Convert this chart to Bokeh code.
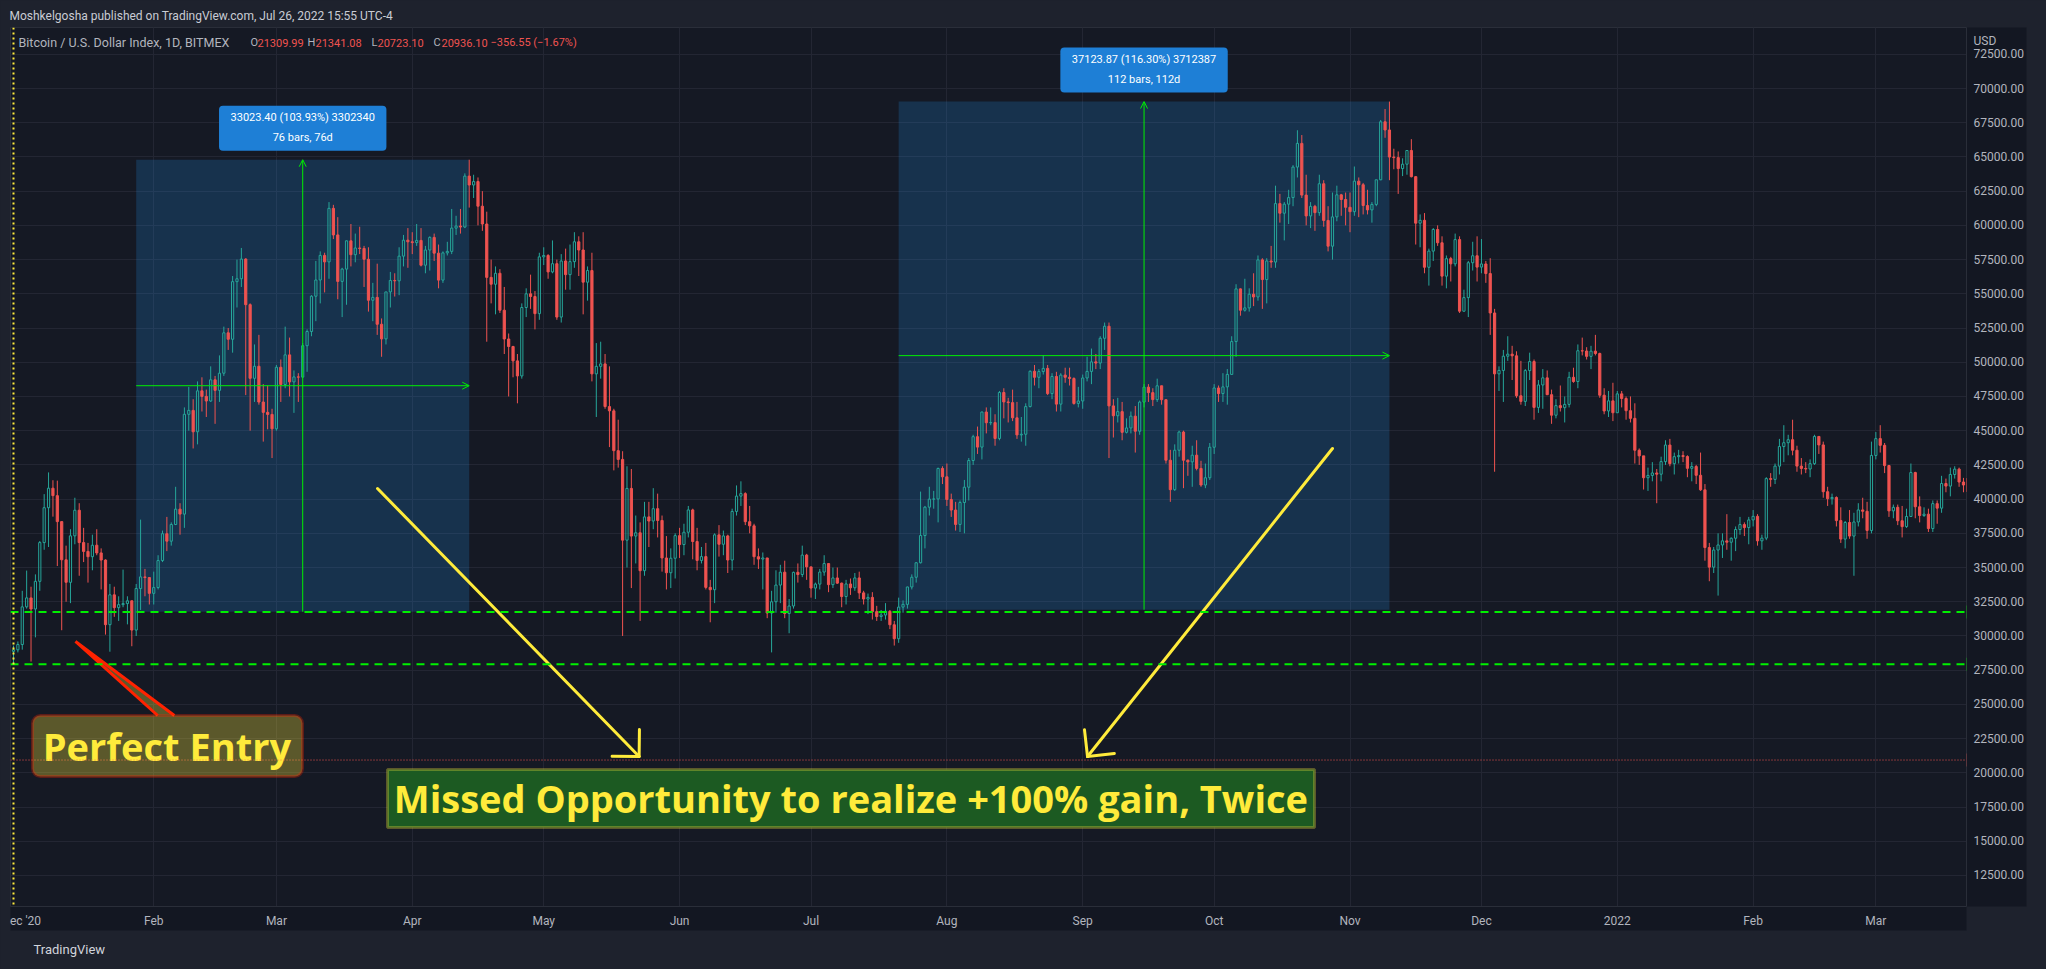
import math
import pandas as pd
from bokeh.plotting import figure
from bokeh.models import (Range1d, FixedTicker, NumeralTickFormatter, Label, BoxAnnotation,
                          Span, Arrow, OpenHead, GlobalInlineStyleSheet, Title)
from bokeh.core.properties import value
from bokeh.embed import file_html
from bokeh.resources import INLINE

# ------------------------------------------------------------------ data
start_date = "2020-12-31"
first_open = 28875.00

close = [
    28990,
    # Jan 2021
    29374, 32127, 32782, 31971, 33992, 36824, 39371, 40797, 40254, 38356, 35566, 33922, 37316, 39187, 36825, 36178,
    35792, 36630, 36069, 35548, 30826, 33006, 32068, 32289, 32366, 32570, 30432, 33466, 34316, 34269, 33115,
    # Feb
    33538, 35511, 37473, 36927, 38144, 39266, 38903, 46196, 46482, 44919, 47910, 47505, 47168, 48717, 47945, 49200,
    52149, 51679, 55888, 56100, 57540, 54207, 48825, 49705, 47093, 46339, 46188, 45137,
    # Mar
    49632, 48378, 50538, 48562, 48927, 48912, 51206, 52247, 54824, 56008, 57805, 57332, 61243, 59302, 55907, 56805,
    58871, 57858, 58347, 58313, 57523, 54529, 54738, 52775, 51705, 55138, 55974, 55948, 57751, 58918, 58800,
    # Apr
    58740, 58900, 57090, 58200, 59120, 57970, 56000, 57990, 58100, 59800, 59950, 59880, 63600, 62950, 63200, 61400,
    60100, 56200, 55700, 56500, 53800, 51700, 51150, 50100, 49000, 54000, 55000, 54800, 53550, 57700,
    # May
    57800, 56600, 57200, 53300, 57400, 56400, 57350, 58800, 58200, 55850, 56700, 49150, 49700, 49880, 46760, 46450,
    43540, 42900, 37000, 40780, 37300, 37540, 34770, 38700, 38400, 39300, 38440, 35700, 34620, 35680, 37330,
    # Jun
    36680, 37580, 39210, 36900, 35520, 35800, 33550, 33380, 37390, 36700, 37310, 35550, 39100, 40220, 40400, 38350,
    38050, 35790, 35620, 35700, 31680, 32500, 33720, 34660, 31640, 32190, 34650, 34490, 35910, 35050,
    # Jul
    33500, 33790, 34670, 35290, 33750, 34240, 33860, 32880, 33800, 33520, 34240, 33150, 32700, 32820, 31780, 31420,
    31530, 31800, 30820, 29800, 32110, 32310, 33580, 34290, 35350, 37340, 39410, 40000, 40010, 42240, 41630,
    # Aug
    39970, 39200, 38150, 39750, 40870, 42820, 44560, 43800, 46360, 45580, 45590, 44430, 47790, 47100, 47050, 45940,
    44690, 44740, 46760, 49340, 48900, 49320, 49550, 47710, 48960, 46940, 49060, 48900, 48810, 46990, 47170,
    # Sep
    48850, 49330, 50030, 49940, 51750, 52630, 46810, 46090, 46390, 44880, 45200, 46060, 44960, 47090, 48180, 47780,
    47270, 48280, 47260, 42840, 40690, 43570, 44900, 42840, 42720, 43210, 42240, 41030, 41560, 43790,
    # Oct
    48120, 47710, 48200, 49110, 51510, 55360, 53800, 53970, 54970, 54770, 57480, 56040, 57400, 57320, 61590, 60890,
    61550, 62030, 64260, 65990, 62210, 60690, 61390, 60930, 63040, 60360, 58480, 60620, 62230, 61890, 61320,
    # Nov
    61000, 63230, 62970, 61450, 61130, 61530, 63330, 67570, 66970, 64990, 64950, 64150, 64470, 65470, 63560, 60160,
    60370, 56940, 58120, 59700, 58730, 56290, 57570, 57190, 58960, 53730, 54720, 57270, 57780, 56950,
    # Dec
    57180, 56480, 53600, 49150, 49400, 50440, 50590, 50470, 47550, 47140, 49390, 50050, 46700, 48340, 48860, 47630,
    46130, 46830, 46680, 46920, 48900, 48590, 50840, 50820, 50430, 50810, 50640, 47590, 46440, 47180, 46310,
    # Jan 2022
    47690, 47350, 46460, 45900, 43570, 43160, 41560, 41730, 41910, 41820, 42740, 43950, 42590, 43100, 43180, 43110,
    42250, 42380, 41740, 40680, 36460, 35030, 36280, 36650, 36950, 36850, 37140, 37780, 38140, 37920, 38480,
    # Feb 2022
    38740, 36950, 37150, 41500, 41440, 42410, 43840, 44120, 44340, 43570, 42410, 42240, 42200, 42590, 44580, 43960,
    40540, 40030, 40120, 38430, 37080, 38290, 37300, 38330, 39210, 39110, 37710, 43190,
    # Mar 2022
    44420, 43930, 42450, 39140, 39400, 38420, 37990, 38730, 41940, 39440, 38800, 38900, 37850, 39670, 39340, 41140,
    40950, 41800, 42190, 41250, 41030.42,
]

high = [
    29300,
    29600, 33300, 34778, 33600, 34500, 36939, 40365, 41950, 41380, 41350, 38330, 36600, 37800, 40100, 39700, 37900,
    36800, 37400, 37800, 36400, 35600, 33800, 33600, 32900, 34850, 32900, 32600, 33800, 38500, 34900, 34300,
    34700, 35900, 37700, 38700, 38300, 40900, 39700, 46700, 48200, 47300, 48600, 48900, 48000, 49700, 49000, 50500,
    52600, 52500, 56300, 57500, 58350, 57600, 54300, 51300, 52000, 48400, 48300, 46600,
    49800, 50200, 52600, 51800, 49400, 49200, 51400, 52400, 54900, 57400, 58100, 58000, 61700, 61500, 60600, 56900,
    58900, 60100, 59400, 59900, 58500, 58400, 55800, 57200, 53200, 55100, 56600, 56500, 58400, 59300, 59800,
    59500, 60100, 59800, 58500, 59200, 59400, 58600, 58100, 58800, 61200, 60700, 61200, 63800, 64797, 63700, 63500,
    62500, 61000, 57500, 57000, 56800, 55500, 52100, 51200, 50600, 54300, 55400, 56400, 55200, 58000,
    58400, 57900, 58900, 57500, 57900, 58300, 58600, 59500, 59200, 59500, 57000, 58000, 51400, 51500, 50600, 49700,
    46600, 45800, 43500, 42400, 42200, 38800, 38300, 39800, 39800, 40800, 40400, 38800, 37300, 36400, 37500,
    37900, 38200, 39500, 39300, 37900, 36500, 36800, 34100, 37500, 38100, 37700, 37400, 39300, 41000, 41300, 40500,
    39500, 38200, 36400, 36100, 35700, 33300, 34800, 35200, 35500, 32700, 34700, 35300, 36600, 36000,
    35050, 33900, 34900, 35900, 35300, 35000, 35000, 33900, 34100, 34200, 34600, 34700, 33300, 33100, 33200, 32200,
    31900, 32400, 31900, 31100, 32800, 32600, 33600, 34500, 35400, 40550, 39500, 40900, 40600, 42300, 42400,
    42600, 40400, 39800, 39900, 41400, 43000, 44700, 45300, 46400, 46700, 46700, 46200, 47900, 48100, 47400, 48000,
    47100, 46000, 47000, 49400, 49800, 49500, 50500, 49800, 49200, 49300, 49200, 49600, 49600, 48900, 48200,
    49100, 50400, 51000, 50600, 51900, 52900, 52900, 47300, 47400, 47100, 45900, 46400, 46800, 47200, 48400, 48400,
    48100, 48800, 48300, 47300, 43600, 44000, 45000, 45000, 42900, 43900, 44300, 42800, 42600, 44100,
    48400, 48300, 49200, 49500, 51900, 55700, 55400, 56100, 55400, 56500, 57800, 57600, 57600, 58500, 62900, 62300,
    61700, 62600, 64400, 66950, 66600, 63700, 61700, 61500, 63700, 63300, 61400, 62400, 62900, 62300, 62400,
    62400, 64300, 63500, 63100, 62600, 61700, 63300, 67700, 68500, 69044, 65600, 65400, 64900, 65500, 66300, 63600,
    60800, 60900, 58300, 59800, 60000, 59200, 57800, 57700, 59400, 59200, 55300, 57400, 58800, 59200,
    59000, 57400, 57600, 53900, 49700, 50900, 51900, 51200, 50800, 50100, 49500, 50700, 50200, 48700, 49500, 49400,
    48000, 47300, 48300, 47500, 49300, 49600, 51300, 51800, 51100, 51200, 52000, 50700, 48100, 47900, 48500,
    47900, 47900, 47500, 47500, 47000, 43700, 43100, 42300, 42700, 42200, 43100, 44300, 44400, 43400, 43600, 43500,
    43200, 42700, 42500, 43400, 41100, 36800, 36500, 37500, 37500, 38900, 37200, 38000, 38700, 38300, 38700,
    39200, 38900, 37400, 41600, 41900, 42600, 44400, 45400, 44700, 45800, 43900, 43000, 42700, 42900, 44700, 44600,
    44200, 40900, 40400, 40200, 39400, 38400, 39200, 39000, 39700, 40100, 39800, 44200,
    44900, 45400, 44100, 42500, 39600, 39600, 39500, 39300, 42600, 42000, 40200, 39400, 39300, 39900, 39900, 41700,
    41500, 42300, 42400, 42300, 41550,
]

low = [
    27928.48,
    28800, 29000, 32000, 28130, 29900, 33300, 36300, 36500, 38720, 35111, 30420, 32500, 32400, 36700, 34400, 35400,
    33900, 34800, 35900, 33400, 30100, 28850, 31400, 31100, 32100, 30850, 29250, 30000, 31900, 32900, 32300,
    32300, 33400, 35400, 36200, 36600, 38100, 37400, 37900, 45000, 43700, 44000, 46400, 46000, 47100, 45500, 47100,
    49000, 50900, 50700, 54000, 55500, 47600, 45000, 47100, 46900, 44200, 45100, 43000,
    45000, 47100, 48100, 47500, 46300, 47100, 48900, 49300, 51900, 53000, 54300, 55100, 56100, 59000, 54600, 53300,
    54200, 57000, 57300, 57900, 55500, 53700, 53000, 52000, 50400, 51300, 54000, 54800, 54900, 57000, 56900,
    57900, 58500, 57000, 56500, 56700, 57400, 55400, 55800, 57800, 57900, 59300, 59400, 59800, 61300, 62000, 60000,
    59600, 51500, 54300, 53500, 53600, 50600, 47500, 48900, 47000, 48800, 53300, 53900, 52400, 53100,
    57100, 56100, 56500, 53100, 52900, 55300, 55300, 56900, 56300, 53500, 54500, 48600, 46000, 48800, 46600, 43800,
    42100, 42300, 30000, 35000, 33500, 35300, 31100, 34400, 36500, 37800, 37200, 34700, 33400, 33500, 34200,
    35700, 35900, 37200, 35600, 34800, 35300, 33400, 31000, 32400, 35800, 35900, 34600, 34800, 38800, 39500, 38100,
    37500, 35200, 34900, 33400, 31300, 28800, 31700, 32400, 31300, 30200, 32000, 33900, 34300, 34100,
    32800, 32700, 33400, 34400, 33200, 33500, 33800, 32100, 32300, 33000, 33300, 32700, 32300, 31600, 31200, 31100,
    31100, 31200, 30500, 29300, 29500, 31700, 32000, 33400, 33900, 35300, 36400, 38800, 39300, 38300, 41100,
    39500, 38700, 37700, 37600, 37500, 39900, 42500, 43300, 42900, 44800, 45400, 43900, 44300, 45900, 45600, 45700,
    44400, 44200, 43900, 46700, 48300, 48100, 49100, 47600, 47300, 46400, 46400, 48500, 48300, 46900, 46700,
    46600, 48600, 48400, 49500, 49500, 50900, 43000, 44500, 45600, 44300, 44800, 44800, 43400, 44700, 46700, 47100,
    46800, 47100, 46900, 42600, 39800, 40600, 43100, 40800, 41700, 40900, 42100, 40900, 40800, 41400,
    43300, 47100, 47100, 46900, 49100, 50400, 53400, 53700, 53700, 54100, 54500, 53900, 54300, 56900, 56900, 60200,
    58900, 60100, 61400, 63500, 62000, 60000, 59800, 59600, 60700, 59900, 58100, 57500, 60300, 60700, 60000,
    59500, 60700, 60600, 60800, 60800, 60200, 61400, 63300, 66400, 63300, 64100, 62300, 63600, 63700, 63500, 58600,
    58400, 56500, 55600, 57400, 58500, 55600, 55400, 55900, 57000, 53600, 53700, 53300, 56700, 55900,
    56500, 55800, 52000, 42000, 47900, 47100, 50100, 48700, 47400, 46900, 46800, 48700, 45800, 46300, 46600, 47600,
    45500, 45900, 46400, 45600, 46700, 48500, 48100, 50500, 50200, 49500, 50500, 47400, 46200, 46000, 45700,
    46300, 46700, 45800, 45600, 42600, 42500, 40700, 40600, 41300, 39700, 41300, 42500, 42400, 41800, 42600, 42700,
    41600, 41300, 41100, 40600, 35500, 34000, 34600, 32950, 35700, 36300, 35500, 36200, 37400, 37300, 36700,
    38000, 36600, 36300, 37000, 40900, 41100, 41800, 42700, 43200, 43200, 42000, 41800, 41900, 41600, 42500, 43300,
    40100, 39500, 39600, 38000, 36800, 36400, 37100, 34400, 38000, 38600, 37100, 37500,
    42900, 43400, 41900, 38700, 38600, 38100, 37200, 37900, 38700, 38600, 38300, 38700, 37600, 37600, 38200, 39000,
    40500, 40200, 41500, 40900, 40500,
]

month_tick_dates = ["2021-02-01", "2021-03-01", "2021-04-01", "2021-05-01", "2021-06-01", "2021-07-01",
                    "2021-08-01", "2021-09-01", "2021-10-01", "2021-11-01", "2021-12-01", "2022-01-01",
                    "2022-02-01", "2022-03-01"]
month_tick_labels = ["Feb", "Mar", "Apr", "May", "Jun", "Jul", "Aug", "Sep", "Oct", "Nov", "Dec", "2022",
                     "Feb", "Mar"]
price_ticks = [12500, 15000, 17500, 20000, 22500, 25000, 27500, 30000, 32500, 35000, 37500, 40000, 42500,
               45000, 47500, 50000, 52500, 55000, 57500, 60000, 62500, 65000, 67500, 70000, 72500]
currency_label = "USD"

level_lines = [31759.14, 27928.48]
last_price = 20936.10

m1_start, m1_end, m1_low, m1_high = "2021-01-28", "2021-04-14", 31773.83, 64797.23
m1_text = ["33023.40 (103.93%) 3302340", "76 bars, 76d"]
m2_start, m2_end, m2_low, m2_high = "2021-07-21", "2021-11-10", 31920.80, 69044.67
m2_text = ["37123.87 (116.30%) 3712387", "112 bars, 112d"]

header_text = "Moshkelgosha published on TradingView.com, Jul 26, 2022 15:55 UTC-4"
footer_text = "TradingView"
legend_title = "Bitcoin / U.S. Dollar Index, 1D, BITMEX"
legend_keys = ["O", "H", "L", "C"]
legend_vals = ["21309.99", "21341.08", "20723.10", "20936.10"]
legend_change = "\u2212356.55 (\u22121.67%)"
cursor_date_label = "ec '20"
callout_text = "Perfect Entry"
banner_text = "Missed Opportunity to realize +100% gain, Twice"

assert len(close) == len(high) == len(low), (len(close), len(high), len(low))

# ------------------------------------------------------------------ styles
OUTER = "#1e222d"
PANE = "#151924"
AXBG = "#131722"
GRID = "#232633"
FRAME = "#2a2e39"
TXT = "#b2b5be"
UP = "#26a69a"
DN = "#ef5350"
GREEN = "#00f000"
YEL = "#ffeb3b"
BLUE = "#1e7fd6"

DAY = 86_400_000


def ms(d):
    return pd.Timestamp(d).value // 1_000_000


t0 = ms(start_date)
n = len(close)
xs = [t0 + i * DAY for i in range(n)]
opens = [first_open] + close[:-1]
btop = [max(o, c) for o, c in zip(opens, close)]
bbot = [min(o, c) for o, c in zip(opens, close)]
hi = [max(h, t) for h, t in zip(high, btop)]
lo = [min(l, b) for l, b in zip(low, bbot)]
is_up = [c >= o for o, c in zip(opens, close)]
col = [UP if u else DN for u in is_up]

x_start, x_end = t0 - 0.685 * DAY, t0 + 445.69 * DAY
y_start, y_end = 10235, 74457
FW, FH = 1956, 879
kx = FW / (x_end - x_start)   # px per ms
ky = FH / (y_end - y_start)   # px per USD

p = figure(width=2046, height=969, output_backend="svg", toolbar_location=None,
           x_range=Range1d(x_start, x_end), y_range=Range1d(y_start, y_end),
           x_axis_location="below", y_axis_location="right",
           min_border_left=10, min_border_right=80, min_border_top=27, min_border_bottom=63,
           background_fill_color=PANE, border_fill_color=OUTER, outline_line_color=FRAME)
p.stylesheets = [GlobalInlineStyleSheet(css="html, body { background: #1e222d; }")]

p.title = Title(text=header_text, align="left", text_font="Roboto", text_font_size="12px",
                text_color="#c9ccd4", text_font_style="normal", standoff=10, offset=-1)
p.add_layout(Title(text=footer_text, align="left", text_font="Roboto", text_font_size="13px",
                   text_color="#d1d4dc", text_font_style="normal", standoff=18, offset=23), "below")

# time scale: month ticks plus the (clipped) date tag of the vertical line, 12 px right of its candle
ec_pos = t0 + round(12 / (kx * DAY) * DAY)
xt_grid = FixedTicker(ticks=[ms(d) for d in month_tick_dates])
xt_axis = FixedTicker(ticks=[ec_pos] + [ms(d) for d in month_tick_dates])
# "USD" sits at the top of the price scale, 48 px above the 70000 level
usd_pos = round(70000 + 48 / ky)
yt_axis = FixedTicker(ticks=price_ticks + [usd_pos])
yt_grid = FixedTicker(ticks=price_ticks)
xa = p.xaxis[0]
ya = p.yaxis[0]
xa.ticker = xt_axis
overrides = {ms(d): lab for d, lab in zip(month_tick_dates, month_tick_labels)}
overrides[ec_pos] = cursor_date_label
xa.major_label_overrides = overrides
ya.ticker = yt_axis
ya.formatter = NumeralTickFormatter(format="0.00")
ya.major_label_overrides = {usd_pos: currency_label}
for ax in (xa, ya):
    ax.axis_line_color = FRAME
    ax.major_tick_line_color = None
    ax.minor_tick_line_color = None
    ax.major_tick_out = 0
    ax.major_tick_in = 0
    ax.major_label_text_color = TXT
    ax.major_label_text_font = "Roboto"
    ax.major_label_text_font_size = "12px"
    try:
        ax.background_fill_color = AXBG
    except Exception:
        pass
xa.major_label_standoff = 7
ya.major_label_standoff = 7
p.xgrid.ticker = xt_grid
p.ygrid.ticker = yt_grid
p.grid.grid_line_color = GRID
p.grid.grid_line_width = 1

# measurement boxes (under candles)
for s, e, lo_, hi_ in ((m1_start, m1_end, m1_low, m1_high), (m2_start, m2_end, m2_low, m2_high)):
    p.add_layout(BoxAnnotation(left=ms(s), right=ms(e), bottom=lo_, top=hi_, fill_color="#2196f3",
                               fill_alpha=0.2, line_color=None, level="underlay"))

# candles
p.segment(x0=xs, y0=hi, x1=xs, y1=btop, line_color=col, line_width=1)
p.segment(x0=xs, y0=bbot, x1=xs, y1=lo, line_color=col, line_width=1)
ux = [x for x, u in zip(xs, is_up) if u]
p.vbar(x=ux, width=0.5 * DAY, top=[t for t, u in zip(btop, is_up) if u],
       bottom=[b for b, u in zip(bbot, is_up) if u], fill_alpha=0, line_color=UP, line_width=1)
dx_ = [x for x, u in zip(xs, is_up) if not u]
p.vbar(x=dx_, width=0.5 * DAY, top=[t for t, u in zip(btop, is_up) if not u],
       bottom=[b for b, u in zip(bbot, is_up) if not u], fill_color=DN, line_color=DN, line_width=1)

# measurement arrows and labels
for s, e, lo_, hi_, txt in ((m1_start, m1_end, m1_low, m1_high, m1_text),
                            (m2_start, m2_end, m2_low, m2_high, m2_text)):
    mid_x = (ms(s) + ms(e)) / 2
    mid_y = (lo_ + hi_) / 2
    p.add_layout(Arrow(end=OpenHead(size=7, line_color=GREEN, line_width=1), x_start=ms(s), y_start=mid_y,
                       x_end=ms(e), y_end=mid_y, line_color=GREEN, line_width=1))
    p.add_layout(Arrow(end=OpenHead(size=7, line_color=GREEN, line_width=1), x_start=mid_x, y_start=lo_,
                       x_end=mid_x, y_end=hi_, line_color=GREEN, line_width=1))
    bb = hi_ + 660
    p.add_layout(BoxAnnotation(left=mid_x - 19.1 * DAY, right=mid_x + 19.1 * DAY, bottom=bb, top=bb + 3290,
                               fill_color=BLUE, fill_alpha=1, line_color=None, border_radius=4,
                               level="underlay"))
    p.text(x=[mid_x, mid_x], y=[bb + 2410, bb + 950], text=txt, text_color="white",
           text_font=value("Roboto"), text_font_size="11px", text_align="center", text_baseline="middle")

# horizontal levels
for lv in level_lines:
    p.add_layout(Span(location=lv, dimension="width", line_color=GREEN, line_width=2, line_dash="8 6"))
p.add_layout(Span(location=last_price, dimension="width", line_color=DN, line_width=1, line_dash="1 2"))
p.add_layout(Span(location=t0, dimension="height", line_color=YEL, line_width=2, line_dash="2 3"))


def day(i):
    return t0 + i * DAY


def yellow_arrow(i0, y0, i1, y1, arm=27):
    x0, x1 = day(i0), day(i1)
    p.segment(x0=[x0], y0=[y0], x1=[x1], y1=[y1], line_color=YEL, line_width=3, line_cap="round")
    vx, vy = (x0 - x1) * kx, (y0 - y1) * ky
    L = math.hypot(vx, vy)
    vx, vy = vx / L, vy / L
    ax0, ay0, ax1, ay1 = [], [], [], []
    for a in (math.pi / 4, -math.pi / 4):
        rx = vx * math.cos(a) - vy * math.sin(a)
        ry = vx * math.sin(a) + vy * math.cos(a)
        ax0.append(x1)
        ay0.append(y1)
        ax1.append(x1 + rx * arm / kx)
        ay1.append(y1 + ry * arm / ky)
    p.segment(x0=ax0, y0=ay0, x1=ax1, y1=ay1, line_color=YEL, line_width=3, line_cap="round")


# banner "Missed Opportunity"
p.add_layout(BoxAnnotation(left=day(85.35), right=day(296.9), bottom=16008, top=20245, fill_color="#1c5a22",
                           fill_alpha=1, line_color=YEL, line_width=3, level="underlay"))
p.text(x=[day(191.1)], y=[18126], text=[banner_text], text_color=YEL, text_font=value("Open Sans"),
       text_font_style="bold", text_font_size="38px", text_align="center", text_baseline="middle")

yellow_arrow(83.07, 40775, 142.77, 21195)
yellow_arrow(301.0, 43697, 245.1, 21195)

# callout "Perfect Entry"
ptr_x = [day(32.9), day(14.15), day(36.7)]
ptr_y = [24190, 29600, 24190]
p.patch(x=ptr_x, y=ptr_y, fill_color=YEL, fill_alpha=0.3, line_color=None)
p.line(x=ptr_x, y=ptr_y, line_color="#ff2200", line_width=3)
p.add_layout(BoxAnnotation(left=day(4.34), right=day(65.95), bottom=19733, top=24190, fill_color=YEL,
                           fill_alpha=0.3, line_color="#ff2200", line_width=3, border_radius=8))
p.text(x=[day(35.0)], y=[21960], text=[callout_text], text_color=YEL, text_font=value("Open Sans"),
       text_font_style="bold", text_font_size="38px", text_align="center", text_baseline="middle")


# ------------------------------------------------------------------ legend texts
def slabel(x, y, text, color=TXT, size="12px", **kw):
    p.add_layout(Label(x=x, y=y, x_units="screen", y_units="screen", text=text, text_color=color,
                       text_font="Roboto", text_font_size=size, text_baseline="middle", **kw))


slabel(8, 864, legend_title, size="12.5px")
key_x = [240, 297, 361, 423]
val_x = [247, 305, 367, 431]
for k, kxp, v, vxp in zip(legend_keys, key_x, legend_vals, val_x):
    slabel(kxp, 864, k, size="11px")
    slabel(vxp, 864, v, color=DN, size="11px")
slabel(480, 864, legend_change, color=DN, size="11px")


def price_tag(price, text, bg, fg, border=None):
    p.add_layout(Label(x=FW, y=price, x_units="screen", y_units="data", text=text, text_color=fg,
                       text_font="Roboto", text_font_size="12px", text_baseline="middle",
                       background_fill_color=bg, border_line_color=border, padding=dict(x=7, y=2)))


price_tag(close[-1], f"{close[-1]:.2f}", AXBG, DN, border=DN)
for lv in level_lines:
    price_tag(lv, f"{lv:.2f}", "#00ff00", "#000000")
price_tag(last_price, f"{last_price:.2f}", DN, "#ffffff")

open("out.html", "w").write(file_html(p, INLINE))
